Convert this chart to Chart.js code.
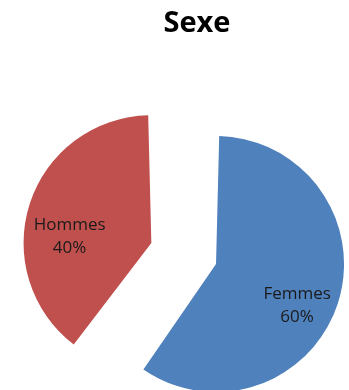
<!DOCTYPE html>
<html>
<head>
<meta charset="utf-8">
<script src="https://cdn.jsdelivr.net/npm/chart.js@4"></script>
<style>
    body{margin:0;background:#fff;}
    #sexe_chart{display:block;}
</style>
</head>
<body>
<canvas id="sexe_chart" width="349" height="390"></canvas>
<script>
    // données
    let sexeLabels = ["Femmes", "Hommes"];
    let sexeValues = [60, 40];
    let sexeColors = ["#4F81BD", "#C0504D"];

    // étiquettes posées dans chaque part (décalage d'angle en degrés, distance en px)
    let labelShift = [9, -13.5];
    let labelDist = [91, 82];

    let sliceLabels = {
        id:"sliceLabels",
        afterDatasetsDraw:function(chart){
            let ctx = chart.ctx;
            let meta = chart.getDatasetMeta(0);
            let total = sexeValues.reduce(function(a, b){ return a + b; }, 0);
            meta.data.forEach(function(arc, i){
                let p = arc.getProps(["x", "y", "startAngle", "endAngle"], true);
                let off = (arc.options.offset || 0) / 4;
                let mid = (p.startAngle + p.endAngle) / 2;
                let cx = p.x + Math.cos(mid) * off;
                let cy = p.y + Math.sin(mid) * off;
                let a = mid + labelShift[i] * Math.PI / 180;
                let x = cx + Math.cos(a) * labelDist[i];
                let y = cy + Math.sin(a) * labelDist[i];
                ctx.save();
                ctx.font = "17px 'Open Sans'";
                ctx.fillStyle = "#1a1a1a";
                ctx.textAlign = "center";
                ctx.textBaseline = "middle";
                ctx.fillText(sexeLabels[i], x, y - 11);
                ctx.fillText(Math.round(sexeValues[i] / total * 100) + "%", x, y + 12);
                ctx.restore();
            });
        }
    };

    let sexeChart = new Chart(document.getElementById("sexe_chart"), {
        type:"pie",
        plugins:[sliceLabels],
        options:{
            responsive:false,
            animation:false,
            radius:108,
            layout:{
                padding:{left:45, right:0, top:0, bottom:0}
            },
            plugins:{
                legend:{display:false},
                tooltip:{enabled:false},
                title:{
                    display:true,
                    text:"Sexe",
                    color:"#000",
                    font:{family:"'Open Sans'", size:29, weight:"bold"},
                    padding:{top:6, bottom:85}
                }
            }
        },
        data:{
            labels:sexeLabels,
            datasets:[
                {
                    data:sexeValues,
                    backgroundColor:sexeColors,
                    borderWidth:0,
                    offset:[80, 192],
                    hoverOffset:0
                }
            ]
        }
    });
</script>
</body>
</html>
